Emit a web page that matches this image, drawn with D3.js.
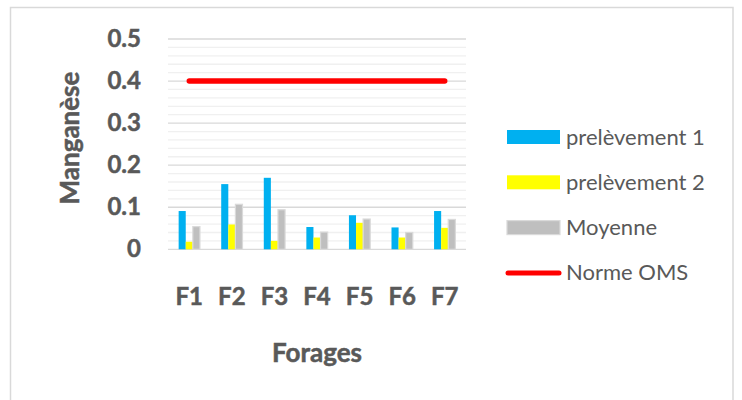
<!DOCTYPE html>
<html>
<head>
<meta charset="utf-8">
<script src="https://cdn.jsdelivr.net/npm/d3@7"></script>
<style>
  body { margin: 0; background: #fff; }
  text { font-family: Lato, "Open Sans", sans-serif; fill: #595959; }
  text.bold { font-weight: bold; stroke: #595959; stroke-width: 0.5px; }
</style>
</head>
<body>
<script>
// Data
const forages = ["F1", "F2", "F3", "F4", "F5", "F6", "F7"];
const prelevement1 = [0.091, 0.155, 0.170, 0.053, 0.081, 0.052, 0.091];
const prelevement2 = [0.018, 0.059, 0.020, 0.028, 0.063, 0.028, 0.051];
const moyenne = [0.054, 0.107, 0.094, 0.041, 0.072, 0.040, 0.071];
const normeOMS = 0.4;
const yTicks = [0, 0.1, 0.2, 0.3, 0.4, 0.5];
const seriesNames = ["prelèvement 1", "prelèvement 2", "Moyenne", "Norme OMS"];

const config = { width: 742, height: 400 };

const svg = d3
  .select("body")
  .append("svg")
  .attr("width", config.width)
  .attr("height", config.height);

// chart border
svg
  .append("rect")
  .attr("x", 10.5)
  .attr("y", 7.5)
  .attr("width", 722.5)
  .attr("height", 420)
  .attr("fill", "#fff")
  .attr("stroke", "#d9d9d9")
  .attr("stroke-width", 1.5);

// scales
const x = d3.scaleBand().domain(forages).range([168, 466]);
const bw = x.bandwidth();
const bars = [
  { name: seriesNames[0], values: prelevement1, color: "#00b0f0" },
  { name: seriesNames[1], values: prelevement2, color: "#ffff00" },
  { name: seriesNames[2], values: moyenne, color: "#bfbfbf", stroke: "#dadada" }
];
const xs = d3
  .scaleBand()
  .domain(bars.map(d => d.name))
  .range([bw / 4, (3 * bw) / 4]);
const y = d3.scaleLinear().domain([0, 0.5]).range([249.3, 39]);

// minor gridlines
svg
  .append("g")
  .selectAll("line")
  .data(d3.range(1, 25).filter(i => i % 5 !== 0).map(i => i * 0.02))
  .enter()
  .append("line")
  .attr("x1", 168)
  .attr("x2", 466)
  .attr("y1", d => y(d))
  .attr("y2", d => y(d))
  .attr("stroke", "#f0f0f0")
  .attr("stroke-width", 1.3);

// major gridlines
svg
  .append("g")
  .selectAll("line")
  .data(yTicks)
  .enter()
  .append("line")
  .attr("x1", 168)
  .attr("x2", 466)
  .attr("y1", d => y(d))
  .attr("y2", d => y(d))
  .attr("stroke", "#d9d9d9")
  .attr("stroke-width", 1.3);

// y tick labels
svg
  .append("g")
  .selectAll("text")
  .data(yTicks)
  .enter()
  .append("text")
  .attr("class", "bold")
  .text(d => (d === 0 ? "0" : d.toFixed(1)))
  .attr("x", 141)
  .attr("y", d => y(d) + 7.5)
  .attr("text-anchor", "end")
  .attr("font-size", "24px");

// bars
bars.forEach(s => {
  svg
    .append("g")
    .selectAll("rect")
    .data(s.values)
    .enter()
    .append("rect")
    .attr("x", (d, i) => x(forages[i]) + xs(s.name))
    .attr("width", xs.bandwidth())
    .attr("y", d => y(d))
    .attr("height", d => y(0) - y(d))
    .attr("fill", s.color)
    .attr("stroke", s.stroke || "none")
    .attr("stroke-width", 1.2);
});

// norme OMS line
const line = d3
  .line()
  .x(d => x(d) + bw / 2)
  .y(() => y(normeOMS));
svg
  .append("path")
  .attr("d", line([forages[0], forages[forages.length - 1]]))
  .attr("stroke", "#ff0000")
  .attr("stroke-width", 5.5)
  .attr("stroke-linecap", "round")
  .attr("fill", "none");

// x tick labels
svg
  .append("g")
  .selectAll("text")
  .data(forages)
  .enter()
  .append("text")
  .attr("class", "bold")
  .text(d => d)
  .attr("x", d => x(d) + bw / 2)
  .attr("y", 305)
  .attr("text-anchor", "middle")
  .attr("font-size", "24px");

// axis titles
svg
  .append("text")
  .attr("class", "bold")
  .text("Forages")
  .attr("x", 317)
  .attr("y", 362)
  .attr("text-anchor", "middle")
  .attr("font-size", "26px");

svg
  .append("text")
  .attr("class", "bold")
  .text("Manganèse")
  .attr("transform", "translate(79,138) rotate(-90)")
  .attr("text-anchor", "middle")
  .attr("font-size", "26px");

// legend
const legend = svg
  .append("g")
  .selectAll("g")
  .data(seriesNames)
  .enter()
  .append("g")
  .attr("transform", (d, i) => `translate(507, ${137 + i * 45.3})`);

legend
  .filter((d, i) => i < 3)
  .append("rect")
  .attr("x", 0)
  .attr("y", -7)
  .attr("width", 53)
  .attr("height", 14)
  .attr("fill", (d, i) => bars[i].color)
  .attr("stroke", (d, i) => bars[i].stroke || "none")
  .attr("stroke-width", 1.2);

legend
  .filter((d, i) => i === 3)
  .append("line")
  .attr("x1", 1)
  .attr("x2", 52)
  .attr("stroke", "#ff0000")
  .attr("stroke-width", 5)
  .attr("stroke-linecap", "round");

legend
  .append("text")
  .text(d => d)
  .attr("x", 59)
  .attr("y", 7.5)
  .attr("font-size", "22px");
</script>
</body>
</html>
